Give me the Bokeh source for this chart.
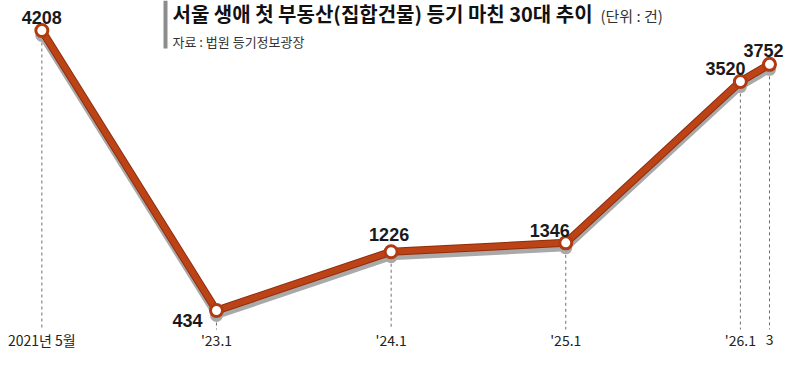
from bokeh.plotting import figure
from bokeh.models import Range1d, ColumnDataSource
from bokeh.core.properties import value
from bokeh.embed import file_html
from bokeh.resources import INLINE

# ---- data ----
tick_labels = ["2021년 5월", "'23.1", "'24.1", "'25.1", "'26.1", "3"]
# months from Jan 2023 (the 2021 gap is drawn compressed to one year)
x_pos = [-12, 0, 12, 24, 36, 38]
counts = [4208, 434, 1226, 1346, 3520, 3752]

title = "서울 생애 첫 부동산(집합건물) 등기 마친 30대 추이"
unit = "(단위 : 건)"
source_txt = "자료 : 법원 등기정보광장"

# ---- layout ----
W, H = 784, 349
X0, X1 = -14.842, 39.03
Y0, Y1 = -91.6, 4612.4
kx = W / (X1 - X0)
ky = H / (Y1 - Y0)


def px2x(px):
    return X0 + px / kx


def px2y(py):
    return Y1 - py / ky


p = figure(width=W, height=H, x_range=Range1d(X0, X1), y_range=Range1d(Y0, Y1),
           x_axis_type=None, y_axis_type=None, toolbar_location=None,
           output_backend="svg", min_border=0, outline_line_color=None,
           background_fill_color="white", border_fill_color="white")
p.xgrid.visible = False
p.ygrid.visible = False

# shadow range (shifted a few pixels down)
sh = 5 / ky
p.extra_y_ranges = {"shadow": Range1d(Y0 + sh, Y1 + sh)}

src = ColumnDataSource(dict(x=x_pos, y=counts, base=[px2y(329)] * len(x_pos)))

# dashed guides
p.segment(x0="x", y0="y", x1="x", y1="base", source=src, line_color="#6e6e6e",
          line_width=1, line_dash="3 3")

# shadow
p.line("x", "y", source=src, y_range_name="shadow", line_color="#a9a9a9",
       line_width=7, line_join="round")
p.scatter("x", "y", source=src, y_range_name="shadow", size=13,
          fill_color="#a9a9a9", line_color=None)

# main line
p.line("x", "y", source=src, line_color="#8f2e0d", line_width=8, line_join="round")
p.line("x", "y", source=src, line_color="#bb4315", line_width=6, line_join="round")
p.scatter("x", "y", source=src, size=12, fill_color="white",
          line_color="#b03b10", line_width=3)

# value labels
lab_src = ColumnDataSource(dict(
    x=x_pos, y=counts, lab=[str(c) for c in counts],
    dx=[0, -14, -2, -16, -15, 14],
    dy=[-13, 10, -17, -12.5, -13.5, -14],
    al=["center", "right", "center", "center", "center", "right"]))
p.text("x", "y", text="lab", source=lab_src, x_offset="dx", y_offset="dy",
       text_align="al", text_baseline="alphabetic",
       text_font=value("Liberation Sans"), text_font_style="bold",
       text_font_size="18px", text_color="#1a1a1a")

# bottom tick labels
tick_src = ColumnDataSource(dict(x=x_pos, y=[px2y(339)] * len(x_pos), t=tick_labels))
p.text("x", "y", text="t", source=tick_src, text_align="center",
       text_baseline="middle", text_font=value("Noto Sans CJK KR"),
       text_font_size="14px", text_color="#222222")

# title block
p.quad(left=[px2x(163)], right=[px2x(167)], top=[px2y(0)], bottom=[px2y(48)],
       fill_color="#8c8c8c", line_color=None)
p.text(x=[px2x(172)], y=[px2y(13)], text=[title], text_align="left",
       text_baseline="middle", text_font=value("Noto Sans CJK KR"),
       text_font_style="bold", text_font_size="20px", text_color="#111111")
p.text(x=[px2x(600)], y=[px2y(14.5)], text=[unit], text_align="left",
       text_baseline="middle", text_font=value("Noto Sans CJK KR"),
       text_font_size="15px", text_color="#333333")
p.text(x=[px2x(172)], y=[px2y(41)], text=[source_txt], text_align="left",
       text_baseline="middle", text_font=value("Noto Sans CJK KR"),
       text_font_size="13px", text_color="#333333")

open("out.html", "w").write(file_html(p, INLINE))
